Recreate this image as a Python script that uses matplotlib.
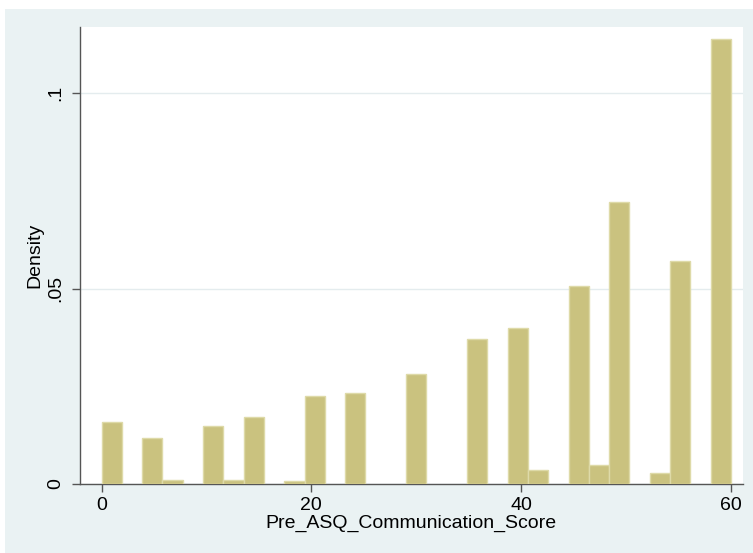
import numpy as np
import matplotlib.pyplot as plt
from matplotlib.patches import Rectangle

plt.rcParams['font.family'] = ['Liberation Sans', 'DejaVu Sans']

# histogram of Pre_ASQ_Communication_Score, 31 bins between 0 and 60
score_min = 0
score_max = 60
n_bins = 31
density = [0.0159, 0.0, 0.0118, 0.0011, 0.0, 0.0148, 0.0009, 0.0171, 0.0, 0.0008,
           0.0226, 0.0, 0.0233, 0.0, 0.0, 0.0281, 0.0, 0.0, 0.0370, 0.0,
           0.0400, 0.0037, 0.0, 0.0506, 0.0049, 0.0721, 0.0, 0.0029, 0.0570, 0.0,
           0.1138]
x_ticks = [0, 20, 40, 60]
y_ticks = [0, 0.05, 0.1]
y_tick_labels = ["0", ".05", ".1"]

W, H = 753, 553
fig = plt.figure(figsize=(W / 100, H / 100), dpi=100, facecolor='white')

# graph region background (Stata s2color look)
fig.patches.append(Rectangle((5 / W, 0), 1, 1 - 9 / H, transform=fig.transFigure,
                             facecolor='#EAF2F3', edgecolor='none', zorder=-10))

left, right, top, bottom = 79.5, 743, 27, 484
ax = fig.add_axes([left / W, (H - bottom) / H, (right - left) / W, (bottom - top) / H])
ax.set_facecolor('white')

edges = np.linspace(score_min, score_max, n_bins + 1)
width = edges[1] - edges[0]
d = np.array(density)
keep = d > 0
ax.bar(edges[:-1][keep], d[keep], width=width, align='edge',
       color='#CAC27F', edgecolor='#DEDAA8', linewidth=1.0, zorder=3)

ax.set_xlim(-2.1, 61.15)
ax.set_ylim(0, 0.1169)

ax.set_xticks(x_ticks)
ax.set_yticks(y_ticks)
ax.set_yticklabels(y_tick_labels, rotation=90, va='center')
ax.tick_params(axis='both', direction='out', length=6, width=1, color='#555555',
               labelsize=14, labelcolor='black')
ax.tick_params(axis='y', pad=5)
ax.tick_params(axis='x', pad=3)

ax.grid(axis='y', color='#E4ECEE', linewidth=1, zorder=1)
ax.set_axisbelow(True)

for s in ['top', 'right']:
    ax.spines[s].set_visible(False)
for s in ['left', 'bottom']:
    ax.spines[s].set_color('#555555')
    ax.spines[s].set_linewidth(1)

ax.set_xlabel('Pre_ASQ_Communication_Score', fontsize=14, labelpad=1)
ax.set_ylabel('Density', fontsize=14, labelpad=3)

fig.savefig('out.png', dpi=100, facecolor='white')
